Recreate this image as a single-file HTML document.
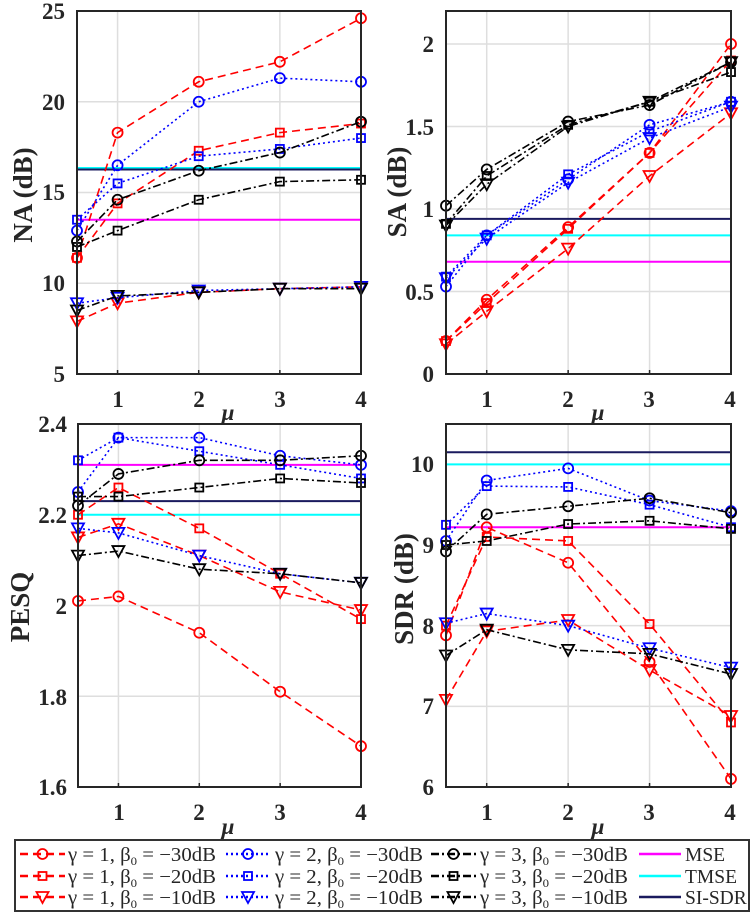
<!DOCTYPE html>
<html><head><meta charset="utf-8"><style>
html,body{margin:0;padding:0;background:#fff;}
svg text{font-family:"Liberation Serif",serif;font-weight:bold;fill:#262626;}
</style></head><body>
<svg id="s" width="756" height="918" viewBox="0 0 756 918" xmlns="http://www.w3.org/2000/svg">
<g id="grid"></g>
<g id="data"></g>
<g id="frames"></g>
<g font-size="23" text-anchor="end">
<text x="65" y="19">25</text><text x="65" y="110">20</text><text x="65" y="200">15</text><text x="65" y="291">10</text><text x="65" y="382">5</text>
<text x="434" y="52">2</text><text x="434" y="135">1.5</text><text x="434" y="217">1</text><text x="434" y="300">0.5</text><text x="434" y="382">0</text>
<text x="67" y="432">2.4</text><text x="67" y="523">2.2</text><text x="67" y="614">2</text><text x="67" y="705">1.8</text><text x="67" y="795">1.6</text>
<text x="434" y="472">10</text><text x="434" y="553">9</text><text x="434" y="634">8</text><text x="434" y="714">7</text><text x="434" y="795">6</text>
</g>
<g font-size="23" text-anchor="middle">
<text x="118" y="407">1</text><text x="199" y="407">2</text><text x="280" y="407">3</text><text x="361" y="407">4</text>
<text x="487" y="407">1</text><text x="568" y="407">2</text><text x="649" y="407">3</text><text x="730" y="407">4</text>
<text x="119" y="820">1</text><text x="199" y="820">2</text><text x="280" y="820">3</text><text x="361" y="820">4</text>
<text x="487" y="820">1</text><text x="568" y="820">2</text><text x="649" y="820">3</text><text x="730" y="820">4</text>
<text x="228" y="420" font-style="italic">μ</text><text x="598" y="420" font-style="italic">μ</text>
<text x="228" y="834" font-style="italic">μ</text><text x="598" y="834" font-style="italic">μ</text>
</g>
<g font-size="27" text-anchor="middle">
<text transform="translate(32,195) rotate(-90)">NA (dB)</text>
<text transform="translate(406,192) rotate(-90)">SA (dB)</text>
<text transform="translate(29,607) rotate(-90)">PESQ</text>
<text transform="translate(413,589) rotate(-90)">SDR (dB)</text>
</g>
<rect x="15" y="840" width="734" height="71" fill="#fff" stroke="#333" stroke-width="2"/>
<g id="leg"></g>
<g font-size="19.5">
<text x="68" y="861" style="font-weight:normal" textLength="148" lengthAdjust="spacingAndGlyphs">γ = 1, β<tspan font-size="12" dy="4">0</tspan><tspan dy="-4"> = −30dB</tspan></text>
<text x="68" y="883" style="font-weight:normal" textLength="148" lengthAdjust="spacingAndGlyphs">γ = 1, β<tspan font-size="12" dy="4">0</tspan><tspan dy="-4"> = −20dB</tspan></text>
<text x="68" y="904" style="font-weight:normal" textLength="148" lengthAdjust="spacingAndGlyphs">γ = 1, β<tspan font-size="12" dy="4">0</tspan><tspan dy="-4"> = −10dB</tspan></text>
<text x="275" y="861" style="font-weight:normal" textLength="148" lengthAdjust="spacingAndGlyphs">γ = 2, β<tspan font-size="12" dy="4">0</tspan><tspan dy="-4"> = −30dB</tspan></text>
<text x="275" y="883" style="font-weight:normal" textLength="148" lengthAdjust="spacingAndGlyphs">γ = 2, β<tspan font-size="12" dy="4">0</tspan><tspan dy="-4"> = −20dB</tspan></text>
<text x="275" y="904" style="font-weight:normal" textLength="148" lengthAdjust="spacingAndGlyphs">γ = 2, β<tspan font-size="12" dy="4">0</tspan><tspan dy="-4"> = −10dB</tspan></text>
<text x="480" y="861" style="font-weight:normal" textLength="148" lengthAdjust="spacingAndGlyphs">γ = 3, β<tspan font-size="12" dy="4">0</tspan><tspan dy="-4"> = −30dB</tspan></text>
<text x="480" y="883" style="font-weight:normal" textLength="148" lengthAdjust="spacingAndGlyphs">γ = 3, β<tspan font-size="12" dy="4">0</tspan><tspan dy="-4"> = −20dB</tspan></text>
<text x="480" y="904" style="font-weight:normal" textLength="148" lengthAdjust="spacingAndGlyphs">γ = 3, β<tspan font-size="12" dy="4">0</tspan><tspan dy="-4"> = −10dB</tspan></text>
<text x="685" y="861" style="font-weight:normal">MSE</text>
<text x="685" y="883" style="font-weight:normal">TMSE</text>
<text x="685" y="904" style="font-weight:normal">SI-SDR</text>
</g>
</svg>
<script>
var NS="http://www.w3.org/2000/svg";
function el(p,t,a){var e=document.createElementNS(NS,t);for(var k in a)e.setAttribute(k,a[k]);p.appendChild(e);return e;}
var G=document.getElementById("grid"),D=document.getElementById("data"),F=document.getElementById("frames"),L=document.getElementById("leg");
var P=[
{x0:77,x1:361,y0:11,y1:374,a:5,b:25,yt:[5,10,15,20,25],
d:[[11.4,18.3,21.1,22.2,24.6],[11.4,14.4,17.3,18.3,18.8],[7.9,8.9,9.5,9.7,9.8],
[12.9,16.5,20.0,21.3,21.1],[13.5,15.5,17.0,17.4,18.0],[8.9,9.2,9.6,9.7,9.8],
[12.3,14.6,16.2,17.2,18.9],[12.0,12.9,14.6,15.6,15.7],[8.5,9.3,9.5,9.7,9.7]],h:[13.5,16.35,16.27]},
{x0:446,x1:731,y0:11,y1:374,a:0,b:2.2,yt:[0,0.5,1,1.5,2],
d:[[0.2,0.45,0.89,1.34,2.0],[0.2,0.43,0.88,1.34,1.9],[0.18,0.38,0.76,1.2,1.58],
[0.53,0.84,1.18,1.51,1.65],[0.59,0.84,1.21,1.47,1.65],[0.58,0.82,1.16,1.43,1.62],
[1.02,1.24,1.53,1.63,1.89],[0.91,1.2,1.51,1.65,1.83],[0.9,1.15,1.5,1.65,1.89]],h:[0.68,0.84,0.94]},
{x0:78,x1:361,y0:424,y1:787,a:1.6,b:2.4,yt:[1.6,1.8,2,2.2,2.4],
d:[[2.01,2.02,1.94,1.81,1.69],[2.2,2.26,2.17,2.07,1.97],[2.15,2.18,2.11,2.03,1.99],
[2.25,2.37,2.37,2.33,2.31],[2.32,2.37,2.34,2.31,2.28],[2.17,2.16,2.11,2.07,2.05],
[2.22,2.29,2.32,2.32,2.33],[2.24,2.24,2.26,2.28,2.27],[2.11,2.12,2.08,2.07,2.05]],h:[2.31,2.2,2.23]},
{x0:446,x1:731,y0:424,y1:787,a:6,b:10.5,yt:[6,7,8,9,10],
d:[[7.88,9.22,8.78,7.55,6.1],[8.0,9.1,9.05,8.02,6.8],[7.08,7.93,8.07,7.45,6.88],
[9.05,9.8,9.95,9.55,9.42],[9.25,9.73,9.72,9.5,9.22],[8.03,8.15,8.0,7.72,7.48],
[8.92,9.38,9.48,9.58,9.4],[9.0,9.05,9.26,9.3,9.2],[7.63,7.95,7.7,7.65,7.4]],h:[9.22,10.0,10.15]}
];
var COL=["#ff0000","#0000ff","#000000"],DASH=["8,5","2,3","8,3,2,3"],MK=["o","s","v"];
var HC=["#ff00ff","#00ffff","#1a1a5e"];
var mus=[0.5,1,2,3,4];
function mark(g,k,x,y,c){
 if(k=="o")el(g,"circle",{cx:x,cy:y,r:5,fill:"none",stroke:c,"stroke-width":1.8});
 else if(k=="s")el(g,"rect",{x:x-4,y:y-4,width:8,height:8,fill:"none",stroke:c,"stroke-width":1.8});
 else el(g,"polygon",{points:(x-6)+","+(y-5)+" "+(x+6)+","+(y-5)+" "+x+","+(y+6),fill:"none",stroke:c,"stroke-width":1.8});
}
P.forEach(function(p){
 var X=function(m){return p.x0+(m-0.5)/3.5*(p.x1-p.x0)};
 var Y=function(v){return p.y1-(v-p.a)/(p.b-p.a)*(p.y1-p.y0)};
 [1,2,3,4].forEach(function(m){el(G,"line",{x1:X(m),x2:X(m),y1:p.y0,y2:p.y1,stroke:"#dedede","stroke-width":1.5});});
 p.yt.forEach(function(v){el(G,"line",{x1:p.x0,x2:p.x1,y1:Y(v),y2:Y(v),stroke:"#dedede","stroke-width":1.5});});
 p.h.forEach(function(v,i){el(D,"line",{x1:p.x0,x2:p.x1,y1:Y(v),y2:Y(v),stroke:HC[i],"stroke-width":2});});
 p.d.forEach(function(s,i){
  var g=Math.floor(i/3),c=COL[g];
  var pts=s.map(function(v,j){return X(mus[j])+","+Y(v)}).join(" ");
  el(D,"polyline",{points:pts,fill:"none",stroke:c,"stroke-width":1.6,"stroke-dasharray":DASH[g]});
  s.forEach(function(v,j){mark(D,MK[i%3],X(mus[j]),Y(v),c);});
 });
 el(F,"rect",{x:p.x0,y:p.y0,width:p.x1-p.x0,height:p.y1-p.y0,fill:"none",stroke:"#262626","stroke-width":2});
 [1,2,3,4].forEach(function(m){el(F,"line",{x1:X(m),x2:X(m),y1:p.y1,y2:p.y1-4,stroke:"#262626","stroke-width":1.5});});
});
var rows=[854,876,897],cols=[[20,65],[226,270],[431,476]];
for(var g=0;g<3;g++)for(var r=0;r<3;r++){
 var y=rows[r],c=cols[g];
 el(L,"line",{x1:c[0],x2:c[1],y1:y,y2:y,stroke:COL[g],"stroke-width":2.5,"stroke-dasharray":DASH[g]});
 mark(L,MK[r],(c[0]+c[1])/2,y,COL[g]);
}
for(var r=0;r<3;r++)el(L,"line",{x1:639,x2:681,y1:rows[r],y2:rows[r],stroke:HC[r],"stroke-width":2.5});
</script>
</body></html>
